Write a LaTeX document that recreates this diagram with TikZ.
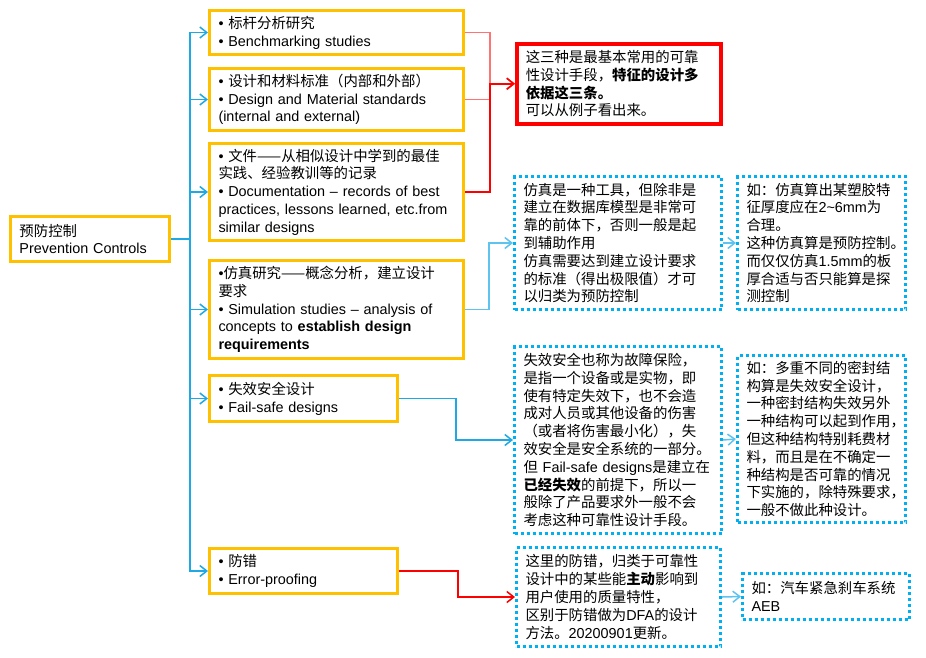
\documentclass[tikz,border=0pt]{standalone}
\usepackage{fontspec}
\setmainfont{Liberation Sans}
\newfontfamily\cjk{Noto Sans CJK SC}
\newcommand\zh[1]{{\cjk #1}}
\usetikzlibrary{arrows.meta}
\definecolor{ocol}{RGB}{255,192,0}
\definecolor{bcol}{RGB}{0,176,240}
\definecolor{lcol}{RGB}{30,168,228}
\definecolor{lcol2}{RGB}{95,195,240}
\definecolor{rcol}{RGB}{255,0,0}
\definecolor{pcol}{RGB}{255,115,115}
\tikzset{
  base/.style={font=\fontsize{14.4}{17.8}\selectfont, align=left, anchor=north west, inner xsep=9pt, inner ysep=0pt, text=black},
  obox/.style={base, draw=ocol, line width=3pt},
  rbox/.style={base, draw=rcol, line width=3.5pt},
  bbox/.style={base, draw=bcol, line width=3pt, dash pattern=on 3pt off 3pt},
  tip/.style={-{Straight Barb[length=7pt,width=11pt]}},
  bline/.style={draw=lcol, line width=1.5pt, tip},
  bline2/.style={draw=lcol2, line width=1.5pt, tip},
  rline/.style={draw=rcol, line width=1.5pt, tip},
  pline/.style={draw=pcol, line width=1.5pt, tip},
}
\begin{document}
\begin{tikzpicture}[x=1pt,y=-1pt]
\useasboundingbox (0,0) rectangle (926,657);

% left root
\node[obox, minimum width=159pt, minimum height=45pt, text width=141pt] (L) at (9,215)
  {\zh{预防控制}\\Prevention Controls};

% orange boxes
\node[obox, minimum width=254pt, minimum height=44pt, text width=236pt] (O1) at (208,9)
  {•~\zh{标杆分析研究}\\•~Benchmarking studies};
\node[obox, minimum width=254pt, minimum height=62pt, text width=236pt] (O2) at (208,67)
  {•~\zh{设计和材料标准（内部和外部）}\\•~Design and Material standards\\(internal and external)};
\node[obox, minimum width=254pt, minimum height=97pt, text width=236pt] (O3) at (208,142)
  {•~\zh{文件——从相似设计中学到的最佳}\\\zh{实践、经验教训等的记录}\\•~Documentation~–~records~of~best\\practices,~lessons~learned,~etc.from\\similar designs};
\node[obox, minimum width=254pt, minimum height=98pt, text width=236pt] (O4) at (208,259)
  {•\zh{仿真研究——概念分析，建立设计}\\\zh{要求}\\•~Simulation~studies~–~analysis~of\\concepts~to~\textbf{establish~design}\\\textbf{requirements}};
\node[obox, minimum width=188pt, minimum height=46pt, text width=170pt] (O5) at (208,374)
  {•~\zh{失效安全设计}\\•~Fail-safe designs};
\node[obox, minimum width=188pt, minimum height=45pt, text width=170pt] (O6) at (208,547)
  {•~\zh{防错}\\•~Error-proofing};

% red note
\node[rbox, minimum width=204pt, minimum height=80pt, text width=186pt] (R) at (515,42)
  {\zh{这三种是最基本常用的可靠}\\\zh{性设计手段，\textbf{特征的设计多}}\\\zh{\textbf{依据这三条。}}\\\zh{可以从例子看出来。}};

% blue dotted notes
\node[bbox, minimum width=207pt, minimum height=133pt, text width=189pt] (S1) at (513,175)
  {\zh{仿真是一种工具，但除非是}\\\zh{建立在数据库模型是非常可}\\\zh{靠的前体下，否则一般是起}\\\zh{到辅助作用}\\\zh{仿真需要达到建立设计要求}\\\zh{的标准（得出极限值）才可}\\\zh{以归类为预防控制}};
\node[bbox, minimum width=168pt, minimum height=133pt, text width=150pt] (S2) at (736,175)
  {\zh{如：仿真算出某塑胶特}\\\zh{征厚度应在}2\textasciitilde6mm\zh{为}\\\zh{合理。}\\\zh{这种仿真算是预防控制。}\\\zh{而仅仅仿真}1.5mm\zh{的板}\\\zh{厚合适与否只能算是探}\\\zh{测控制}};
\node[bbox, minimum width=207pt, minimum height=187pt, text width=189pt] (F1) at (513,345)
  {\zh{失效安全也称为故障保险，}\\\zh{是指一个设备或是实物，即}\\\zh{使有特定失效下，也不会造}\\\zh{成对人员或其他设备的伤害}\\\zh{（或者将伤害最小化），失}\\\zh{效安全是安全系统的一部分。}\\\zh{但}~Fail-safe~designs\zh{是建立在}\\\zh{\textbf{已经失效}的前提下，所以一}\\\zh{般除了产品要求外一般不会}\\\zh{考虑这种可靠性设计手段。}};
\node[bbox, minimum width=168pt, minimum height=167pt, text width=150pt] (F2) at (736,354)
  {\zh{如：多重不同的密封结}\\\zh{构算是失效安全设计，}\\\zh{一种密封结构失效另外}\\\zh{一种结构可以起到作用，}\\\zh{但这种结构特别耗费材}\\\zh{料，而且是在不确定一}\\\zh{种结构是否可靠的情况}\\\zh{下实施的，除特殊要求，}\\\zh{一般不做此种设计。}};
\node[bbox, minimum width=204pt, minimum height=99pt, text width=186pt] (E1) at (515,546)
  {\zh{这里的防错，归类于可靠性}\\\zh{设计中的某些能\textbf{主动}影响到}\\\zh{用户使用的质量特性，}\\\zh{区别于防错做为}DFA\zh{的设计}\\\zh{方法。}20200901\zh{更新。}};
\node[bbox, minimum width=167pt, minimum height=46pt, text width=149pt] (E2) at (741,572)
  {\zh{如：汽车紧急刹车系统}\\AEB};

% trunk connectors
\foreach \n in {O1,O2,O3,O4,O5,O6}
  \draw[bline] (L.east) -- ++(19,0) |- (\n.west);

% red connectors
\foreach \n in {O1,O2}
  \draw[pline] (\n.east) -- ++(25,0) |- (R.west);
\draw[rline] (O3.east) -- ++(25,0) |- (R.west);
\draw[rline] (O6.east) -- ++(59,0) |- (E1.west);

% blue note connectors
\draw[bline2] (O4.east) -- ++(24,0) |- (S1.west);
\draw[bline] (O5.east) -- ++(57,0) |- (F1.west);
\draw[bline2] (S1.east) -- (S2.west);
\draw[bline2] (F1.east) -- (F2.west);
\draw[bline2] (E1.east) -- (E2.west);
\end{tikzpicture}
\end{document}
